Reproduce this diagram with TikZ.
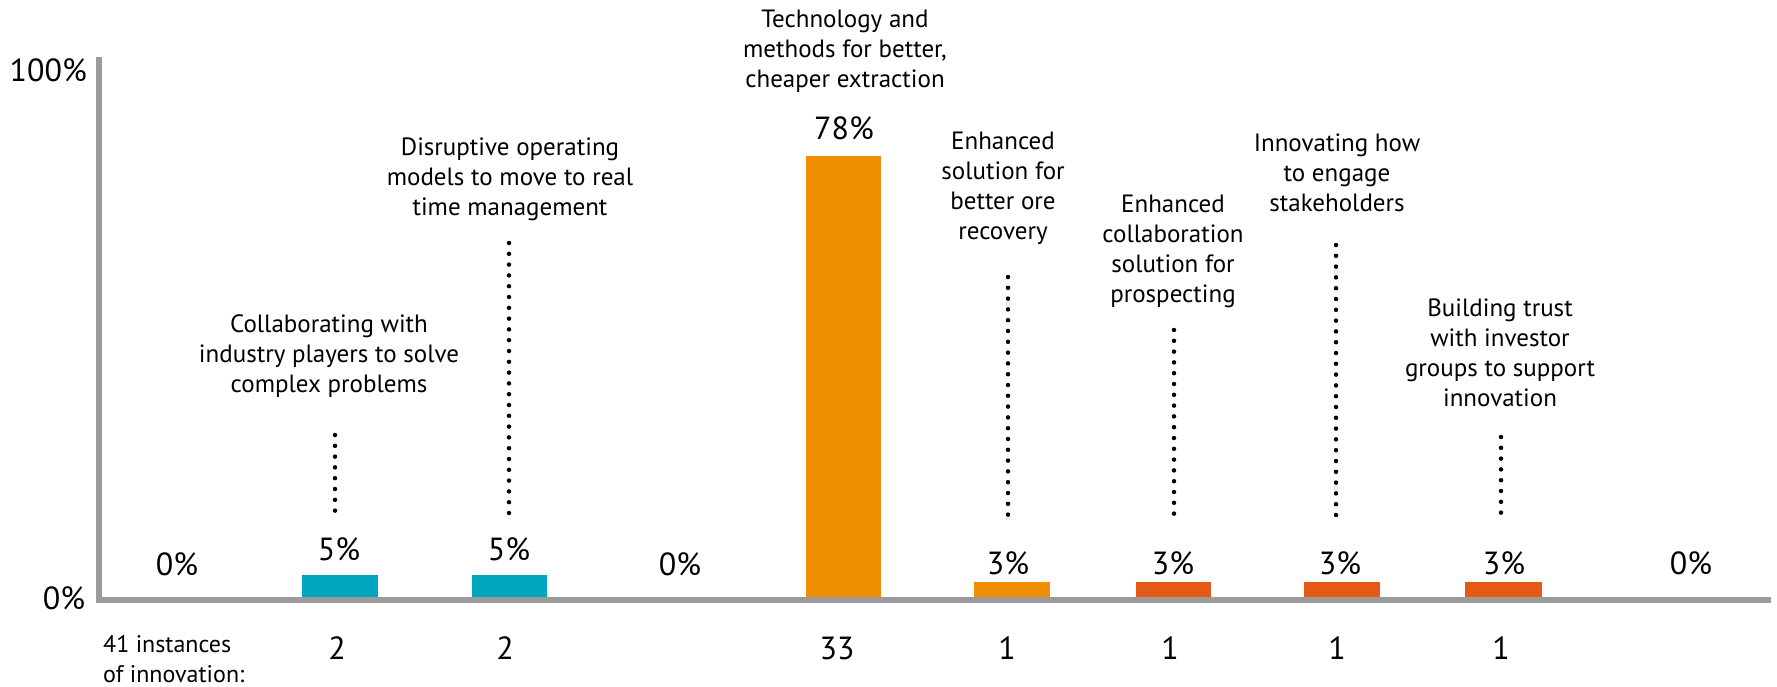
\documentclass[tikz,border=0pt]{standalone}
\usepackage{fontspec}
\setmainfont{PT Sans}
\definecolor{teal}{RGB}{0,165,192}
\definecolor{orng}{RGB}{240,144,0}
\definecolor{redo}{RGB}{229,89,22}
\definecolor{axisgray}{RGB}{155,155,155}
\begin{document}
\begin{tikzpicture}[x=1pt,y=-1pt,
  lbl/.style={align=center,inner sep=0pt,font=\fontsize{25}{30}\selectfont},
  pct/.style={inner sep=0pt,font=\fontsize{32}{36}\selectfont},
  cnt/.style={inner sep=0pt,font=\fontsize{32}{36}\selectfont},
  dots/.style={line width=4.5pt,line cap=round,dash pattern=on 0pt off 10.8pt},
  axisline/.style={axisgray,line width=6pt}]
\useasboundingbox (0,0) rectangle (1777,687);
% axes
\coordinate (ytop) at (98.6,57);
\coordinate (orig) at (98.6,599.5);
\coordinate (xend) at (1771,599.5);
\draw[axisline] (ytop) -- (orig) -- (xend);
\node[pct,anchor=east] (l100) at (87,70) {100\%};
\node[pct] (l0) at (64,598) {0\%};
% bars
\fill[teal] (302,575) rectangle (377.5,597);
\fill[teal] (471.5,575) rectangle (546.5,597);
\fill[orng] (805.5,156) rectangle (880.5,597);
\fill[orng] (974,582) rectangle (1050,597);
\fill[redo] (1136,582) rectangle (1211,597);
\fill[redo] (1304,582) rectangle (1380,597);
\fill[redo] (1465,582) rectangle (1542,597);
% percent labels
\node[pct] (p1) at (177,564) {0\%};
\node[pct] (p2) at (339,549) {5\%};
\node[pct] (p3) at (509,549) {5\%};
\node[pct] (p4) at (680,564) {0\%};
\node[pct] (p5) at (844,128) {78\%};
\node[pct] (p6) at (1008,563) {3\%};
\node[pct] (p7) at (1173,563) {3\%};
\node[pct] (p8) at (1340,563) {3\%};
\node[pct] (p9) at (1504,563) {3\%};
\node[pct] (p10) at (1691,563) {0\%};
% category labels
\node[lbl] (c2) at (329,356) {Collaborating with\\industry players to solve\\complex problems};
\node[lbl] (c3) at (510,179) {Disruptive operating\\models to move to real\\time management};
\node[lbl] (c5) at (845,51) {Technology and\\methods for better,\\cheaper extraction};
\node[lbl] (c6) at (1003,188) {Enhanced\\solution for\\better ore\\recovery};
\node[lbl] (c7) at (1173,251) {Enhanced\\collaboration\\solution for\\prospecting};
\node[lbl] (c8) at (1337,173) {Innovating how\\to engage\\stakeholders};
\node[lbl] (c9) at (1500,353) {Building trust\\with investor\\groups to support\\innovation};
% dotted leaders
\coordinate (d2t) at (335,435); \coordinate (d2b) at (335,517);
\coordinate (d3t) at (509,243); \coordinate (d3b) at (509,517);
\coordinate (d6t) at (1008,277); \coordinate (d6b) at (1008,517);
\coordinate (d7t) at (1174,330); \coordinate (d7b) at (1174,517);
\coordinate (d8t) at (1336,245); \coordinate (d8b) at (1336,517);
\coordinate (d9t) at (1501,437); \coordinate (d9b) at (1501,517);
\draw[dots] (d2t) -- (d2b);
\draw[dots] (d3t) -- (d3b);
\draw[dots] (d6t) -- (d6b);
\draw[dots] (d7t) -- (d7b);
\draw[dots] (d8t) -- (d8b);
\draw[dots] (d9t) -- (d9b);
% counts
\node[lbl,align=left,anchor=north west,font=\fontsize{24}{30}\selectfont] (inst) at (103,635) {41 instances\\of innovation:};
\node[cnt] (n2) at (337,648) {2};
\node[cnt] (n3) at (505,648) {2};
\node[cnt] (n5) at (837,648) {33};
\node[cnt] (n6) at (1007,648) {1};
\node[cnt] (n7) at (1170,648) {1};
\node[cnt] (n8) at (1337,648) {1};
\node[cnt] (n9) at (1501,648) {1};
\end{tikzpicture}
\end{document}
